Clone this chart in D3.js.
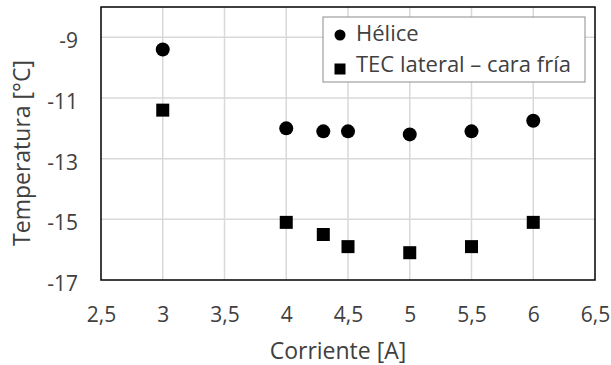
<!DOCTYPE html>
<html><head><meta charset="utf-8">
<script src="https://cdn.jsdelivr.net/npm/d3@7"></script>
<style>body{margin:0;background:#fff}svg{display:block}</style>
</head><body>
<script>
const corriente = [3, 4, 4.3, 4.5, 5, 5.5, 6];
const helice = [-9.4, -12.0, -12.1, -12.1, -12.2, -12.1, -11.75];
const tecLateral = [-11.4, -15.1, -15.5, -15.9, -16.1, -15.9, -15.1];
const seriesNames = ["Hélice", "TEC lateral – cara fría"];
const xTicks = [2.5, 3, 3.5, 4, 4.5, 5, 5.5, 6, 6.5];
const yTicks = [-17, -15, -13, -11, -9];

const W = 611, H = 365;
const m = {l: 101, r: 595, t: 7, b: 280};
const font = "'Open Sans', sans-serif";
const svg = d3.select("body").append("svg").attr("width", W).attr("height", H);
const x = d3.scaleLinear().domain([2.5, 6.5]).range([m.l, m.r]);
const y = d3.scaleLinear().domain([-17, -8]).range([m.b, m.t]);

// grid
svg.append("g").selectAll("line").data(xTicks.slice(1, -1)).join("line")
  .attr("x1", d => x(d)).attr("x2", d => x(d)).attr("y1", m.t).attr("y2", m.b)
  .attr("stroke", "#d9d9d9").attr("stroke-width", 1.5);
svg.append("g").selectAll("line").data(yTicks.slice(1)).join("line")
  .attr("x1", m.l).attr("x2", m.r).attr("y1", d => y(d)).attr("y2", d => y(d))
  .attr("stroke", "#d9d9d9").attr("stroke-width", 1.5);

// frame
svg.append("rect").attr("x", m.l).attr("y", m.t).attr("width", m.r - m.l).attr("height", m.b - m.t)
  .attr("fill", "none").attr("stroke", "#000").attr("stroke-width", 1.5);

// axes
const xAxis = svg.append("g").attr("transform", `translate(0,${m.b})`)
  .call(d3.axisBottom(x).tickValues(xTicks).tickSize(0)
    .tickFormat(d => String(d).replace(".", ",")));
const yAxis = svg.append("g").attr("transform", `translate(${m.l},0)`)
  .call(d3.axisLeft(y).tickValues(yTicks).tickSize(0).tickPadding(23)
    .tickFormat(d => String(d)));
[xAxis, yAxis].forEach(a => {
  a.select(".domain").remove();
  a.selectAll("text").attr("font-family", font).attr("font-size", 21).attr("fill", "#404040");
});
xAxis.selectAll("text").attr("y", 42).attr("dy", null);
yAxis.selectAll("text").attr("dy", "0.5em");

svg.append("text").attr("x", 338).attr("y", 359).attr("text-anchor", "middle")
  .attr("font-family", font).attr("font-size", 23).attr("fill", "#404040").text("Corriente [A]");
svg.append("text").attr("transform", "translate(30,153) rotate(-90)").attr("text-anchor", "middle")
  .attr("font-family", font).attr("font-size", 23).attr("fill", "#404040").text("Temperatura [°C]");

// points
svg.append("g").selectAll("circle").data(corriente).join("circle")
  .attr("cx", d => x(d)).attr("cy", (d, i) => y(helice[i])).attr("r", 7).attr("fill", "#000");
const s = 13;
svg.append("g").selectAll("rect").data(corriente).join("rect")
  .attr("x", d => x(d) - s / 2).attr("y", (d, i) => y(tecLateral[i]) - s / 2)
  .attr("width", s).attr("height", s).attr("fill", "#000");

// legend
const lg = svg.append("g");
lg.append("rect").attr("x", 323).attr("y", 17).attr("width", 262).attr("height", 65)
  .attr("fill", "#fff").attr("stroke", "#8c8c8c").attr("stroke-width", 1);
lg.append("circle").attr("cx", 340).attr("cy", 35).attr("r", 5.5).attr("fill", "#000");
lg.append("rect").attr("x", 334.5).attr("y", 63.5).attr("width", 11).attr("height", 11).attr("fill", "#000");
lg.selectAll("text.l").data(seriesNames).join("text").attr("class", "l")
  .attr("x", 356).attr("y", (d, i) => 41 + i * 31)
  .attr("font-family", font).attr("font-size", 22).attr("fill", "#404040").text(d => d);
</script>
</body></html>
